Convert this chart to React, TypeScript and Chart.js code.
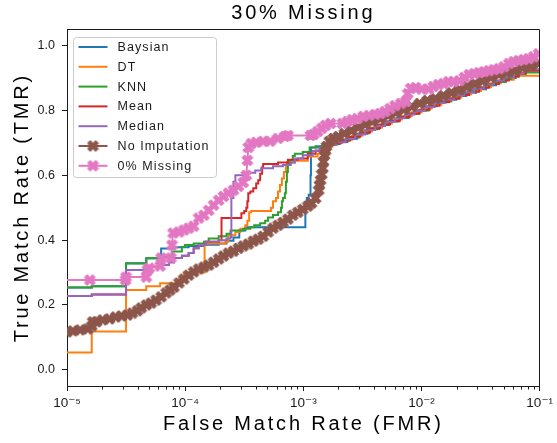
import React, { useEffect, useRef } from "react";
import { Chart, registerables } from "chart.js";

Chart.register(...registerables);

// ---------------- text ----------------
const TITLE = "30% Missing";
const X_TITLE = "False Match Rate (FMR)";
const Y_TITLE = "True Match Rate (TMR)";
const SERIES_NAMES = ["Baysian", "DT", "KNN", "Mean", "Median", "No Imputation", "0% Missing"];
const SERIES_COLORS = ["#1f77b4", "#ff7f0e", "#2ca02c", "#d62728", "#9467bd", "#8c564b", "#e377c2"];

// ---------------- axes ----------------
const X_DECADES = [1e-5, 1e-4, 1e-3, 1e-2, 1e-1];
const X_TICK_LABELS = ["10⁻⁵", "10⁻⁴", "10⁻³", "10⁻²", "10⁻¹"];
const X_MINOR_MULTIPLIERS = [2, 3, 4, 5, 6, 7, 8, 9];
const Y_TICKS = [0, 0.2, 0.4, 0.6, 0.8, 1.0];
const X_MIN = 1e-5;
const X_MAX = 1e-1;
const Y_MIN = -0.05;
const Y_MAX = 1.05;

// ---------------- data (FMR, TMR) ----------------
const BAYSIAN_FMR = [1e-5, 1.62e-5, 3.16e-5, 4.69e-5, 6.26e-5, 8.04e-5, 1.07e-4, 1.44e-4, 1.92e-4, 2.24e-4, 2.56e-4, 2.87e-4, 3.23e-4, 1.04e-3, 1.07e-3, 1.11e-3, 1.15e-3, 1.16e-3, 1.27e-3, 1.46e-3, 1.60e-3, 1.94e-3, 2.36e-3, 2.86e-3, 3.47e-3, 4.21e-3, 5.10e-3, 6.18e-3, 7.50e-3, 9.10e-3, 1.10e-2, 1.34e-2, 1.62e-2, 1.97e-2, 2.39e-2, 2.90e-2, 3.52e-2, 4.27e-2, 5.17e-2, 6.27e-2, 7.60e-2, 1e-1];
const BAYSIAN_TMR = [0.254, 0.258, 0.329, 0.344, 0.374, 0.378, 0.382, 0.386, 0.390, 0.398, 0.408, 0.430, 0.440, 0.518, 0.530, 0.540, 0.600, 0.686, 0.690, 0.692, 0.695, 0.703, 0.713, 0.728, 0.742, 0.755, 0.767, 0.778, 0.790, 0.800, 0.813, 0.825, 0.833, 0.845, 0.855, 0.866, 0.878, 0.890, 0.900, 0.910, 0.925, 0.925];

const DT_FMR = [1e-5, 1.62e-5, 3.16e-5, 4.69e-5, 6.14e-5, 8.86e-5, 9.76e-5, 1.46e-4, 2.19e-4, 2.32e-4, 2.66e-4, 2.93e-4, 3.23e-4, 3.36e-4, 3.48e-4, 3.62e-4, 5.33e-4, 5.54e-4, 5.87e-4, 6.10e-4, 6.34e-4, 6.59e-4, 6.85e-4, 7.12e-4, 7.26e-4, 8.47e-4, 1.09e-3, 1.32e-3, 1.51e-3, 1.76e-3, 2.14e-3, 2.59e-3, 3.15e-3, 3.82e-3, 4.63e-3, 5.61e-3, 6.81e-3, 8.26e-3, 1.00e-2, 1.22e-2, 1.47e-2, 1.79e-2, 2.17e-2, 2.63e-2, 3.19e-2, 3.87e-2, 4.69e-2, 6.03e-2, 1e-1];
const DT_TMR = [0.053, 0.118, 0.246, 0.258, 0.267, 0.285, 0.300, 0.390, 0.395, 0.415, 0.425, 0.435, 0.446, 0.460, 0.486, 0.490, 0.500, 0.520, 0.530, 0.550, 0.570, 0.590, 0.610, 0.625, 0.640, 0.645, 0.658, 0.667, 0.688, 0.700, 0.710, 0.722, 0.735, 0.748, 0.760, 0.772, 0.783, 0.795, 0.806, 0.818, 0.828, 0.840, 0.850, 0.860, 0.872, 0.884, 0.895, 0.907, 0.907];

const KNN_FMR = [1e-5, 1.62e-5, 3.16e-5, 4.69e-5, 6.02e-5, 7.74e-5, 9.38e-5, 9.94e-5, 1.18e-4, 1.44e-4, 1.58e-4, 1.92e-4, 2.24e-4, 2.42e-4, 3.10e-4, 3.56e-4, 3.84e-4, 4.31e-4, 4.75e-4, 5.03e-4, 5.54e-4, 6.10e-4, 6.47e-4, 6.59e-4, 6.72e-4, 6.98e-4, 7.12e-4, 7.26e-4, 7.40e-4, 7.69e-4, 8.14e-4, 8.47e-4, 9.89e-4, 1.13e-3, 1.40e-3, 1.66e-3, 2.02e-3, 2.45e-3, 2.97e-3, 3.60e-3, 4.37e-3, 5.30e-3, 6.43e-3, 7.80e-3, 9.46e-3, 1.15e-2, 1.34e-2, 1.79e-2, 2.09e-2, 2.48e-2, 2.90e-2, 3.52e-2, 4.02e-2, 5.17e-2, 5.69e-2, 6.64e-2, 7.60e-2, 1e-1];
const KNN_TMR = [0.254, 0.258, 0.328, 0.344, 0.349, 0.365, 0.379, 0.385, 0.390, 0.395, 0.405, 0.412, 0.420, 0.430, 0.435, 0.440, 0.446, 0.452, 0.460, 0.470, 0.478, 0.486, 0.500, 0.520, 0.530, 0.545, 0.580, 0.610, 0.636, 0.646, 0.660, 0.667, 0.672, 0.686, 0.690, 0.697, 0.707, 0.717, 0.730, 0.743, 0.755, 0.766, 0.777, 0.789, 0.800, 0.815, 0.831, 0.836, 0.852, 0.862, 0.870, 0.878, 0.888, 0.897, 0.905, 0.914, 0.917, 0.917];

const MEAN_FMR = [1e-5, 1.62e-5, 3.16e-5, 4.69e-5, 6.38e-5, 7.30e-5, 8.04e-5, 9.38e-5, 1.07e-4, 1.18e-4, 1.30e-4, 1.49e-4, 1.92e-4, 2.03e-4, 2.99e-4, 3.16e-4, 3.29e-4, 3.36e-4, 3.42e-4, 3.56e-4, 3.77e-4, 3.99e-4, 4.15e-4, 4.31e-4, 4.48e-4, 4.57e-4, 6.10e-4, 7.40e-4, 8.97e-4, 1.09e-3, 1.27e-3, 1.46e-3, 1.70e-3, 2.06e-3, 2.49e-3, 3.03e-3, 3.67e-3, 4.46e-3, 5.41e-3, 6.55e-3, 7.94e-3, 9.64e-3, 1.17e-2, 1.42e-2, 1.72e-2, 2.09e-2, 2.53e-2, 3.07e-2, 3.72e-2, 4.52e-2, 5.48e-2, 6.64e-2, 7.60e-2, 1e-1];
const MEAN_TMR = [0.228, 0.232, 0.308, 0.318, 0.323, 0.332, 0.345, 0.352, 0.360, 0.375, 0.385, 0.395, 0.400, 0.468, 0.483, 0.490, 0.500, 0.520, 0.545, 0.550, 0.560, 0.575, 0.585, 0.605, 0.625, 0.635, 0.640, 0.648, 0.652, 0.667, 0.677, 0.688, 0.698, 0.708, 0.719, 0.732, 0.745, 0.757, 0.768, 0.780, 0.791, 0.802, 0.815, 0.826, 0.837, 0.848, 0.858, 0.870, 0.882, 0.893, 0.905, 0.915, 0.923, 0.923];

const MEDIAN_FMR = [1e-5, 1.62e-5, 3.16e-5, 4.69e-5, 6.38e-5, 7.30e-5, 8.04e-5, 9.38e-5, 1.07e-4, 1.18e-4, 1.30e-4, 1.49e-4, 1.92e-4, 2.24e-4, 2.42e-4, 2.46e-4, 2.56e-4, 2.66e-4, 3.10e-4, 3.92e-4, 4.40e-4, 5.54e-4, 6.72e-4, 7.84e-4, 8.47e-4, 9.89e-4, 1.20e-3, 1.37e-3, 1.60e-3, 1.87e-3, 2.27e-3, 2.75e-3, 3.33e-3, 4.05e-3, 4.91e-3, 5.96e-3, 7.22e-3, 8.75e-3, 1.06e-2, 1.29e-2, 1.56e-2, 1.89e-2, 2.30e-2, 2.79e-2, 3.38e-2, 4.10e-2, 4.98e-2, 6.03e-2, 7.31e-2, 1e-1];
const MEDIAN_TMR = [0.228, 0.232, 0.308, 0.318, 0.323, 0.332, 0.345, 0.352, 0.360, 0.375, 0.385, 0.395, 0.400, 0.405, 0.410, 0.530, 0.580, 0.600, 0.608, 0.615, 0.622, 0.628, 0.632, 0.640, 0.652, 0.662, 0.675, 0.686, 0.694, 0.702, 0.712, 0.726, 0.740, 0.752, 0.765, 0.776, 0.788, 0.799, 0.811, 0.823, 0.834, 0.846, 0.857, 0.868, 0.880, 0.892, 0.903, 0.914, 0.927, 0.930];

const NO_IMPUTATION_FMR = [1e-5, 1.12e-5, 1.29e-5, 1.50e-5, 1.62e-5, 1.65e-5, 1.78e-5, 2.00e-5, 2.29e-5, 2.58e-5, 2.89e-5, 3.25e-5, 3.57e-5, 3.94e-5, 4.25e-5, 4.69e-5, 5.15e-5, 5.67e-5, 6.26e-5, 6.89e-5, 7.44e-5, 8.04e-5, 8.86e-5, 9.76e-5, 1.07e-4, 1.18e-4, 1.30e-4, 1.44e-4, 1.58e-4, 1.74e-4, 1.92e-4, 2.11e-4, 2.32e-4, 2.56e-4, 2.82e-4, 3.10e-4, 3.42e-4, 3.77e-4, 4.15e-4, 4.57e-4, 5.03e-4, 5.54e-4, 6.10e-4, 6.72e-4, 7.40e-4, 8.14e-4, 8.97e-4, 9.89e-4, 1.09e-3, 1.17e-3, 1.27e-3, 1.35e-3, 1.37e-3, 1.40e-3, 1.43e-3, 1.46e-3, 1.48e-3, 1.51e-3, 1.54e-3, 1.57e-3, 1.66e-3, 1.80e-3, 1.98e-3, 2.22e-3, 2.55e-3, 2.91e-3, 3.33e-3, 3.82e-3, 4.46e-3, 5.20e-3, 6.07e-3, 7.08e-3, 8.26e-3, 9.64e-3, 1.12e-2, 1.31e-2, 1.53e-2, 1.79e-2, 2.09e-2, 2.43e-2, 2.84e-2, 3.32e-2, 3.87e-2, 4.52e-2, 5.27e-2, 6.15e-2, 7.18e-2, 8.38e-2, 9.77e-2];
const NO_IMPUTATION_TMR = [0.117, 0.120, 0.123, 0.126, 0.135, 0.148, 0.148, 0.154, 0.157, 0.163, 0.166, 0.169, 0.175, 0.182, 0.191, 0.200, 0.206, 0.215, 0.225, 0.237, 0.246, 0.255, 0.268, 0.280, 0.292, 0.302, 0.311, 0.317, 0.323, 0.332, 0.342, 0.351, 0.360, 0.366, 0.375, 0.382, 0.388, 0.397, 0.403, 0.412, 0.425, 0.437, 0.446, 0.455, 0.465, 0.477, 0.486, 0.495, 0.505, 0.514, 0.529, 0.554, 0.570, 0.585, 0.603, 0.622, 0.642, 0.662, 0.676, 0.689, 0.705, 0.714, 0.720, 0.729, 0.738, 0.748, 0.757, 0.766, 0.775, 0.785, 0.794, 0.803, 0.812, 0.822, 0.831, 0.837, 0.846, 0.855, 0.865, 0.874, 0.883, 0.892, 0.902, 0.911, 0.917, 0.923, 0.932, 0.938, 0.945];

const ZERO_MISSING_FMR = [7e-6, 1.56e-5, 3.13e-5, 3.16e-5, 4.69e-5, 4.78e-5, 4.97e-5, 6.14e-5, 6.26e-5, 7.59e-5, 7.74e-5, 7.89e-5, 8.86e-5, 9.76e-5, 1.07e-4, 1.18e-4, 1.30e-4, 1.44e-4, 1.58e-4, 1.74e-4, 1.92e-4, 2.11e-4, 2.32e-4, 2.56e-4, 2.82e-4, 3.10e-4, 3.29e-4, 3.36e-4, 3.42e-4, 3.62e-4, 3.99e-4, 4.57e-4, 5.23e-4, 6.10e-4, 6.98e-4, 7.40e-4, 1.15e-3, 1.22e-3, 1.32e-3, 1.43e-3, 1.54e-3, 1.70e-3, 2.14e-3, 2.36e-3, 2.59e-3, 2.86e-3, 3.21e-3, 3.60e-3, 4.05e-3, 4.46e-3, 4.91e-3, 5.41e-3, 5.96e-3, 6.69e-3, 7.36e-3, 7.65e-3, 8.11e-3, 8.93e-3, 1.00e-2, 1.15e-2, 1.26e-2, 1.39e-2, 1.53e-2, 1.69e-2, 1.86e-2, 2.09e-2, 2.30e-2, 2.53e-2, 2.79e-2, 3.07e-2, 3.38e-2, 3.72e-2, 4.10e-2, 4.52e-2, 4.98e-2, 5.48e-2, 6.03e-2, 6.64e-2, 7.31e-2, 8.06e-2, 8.87e-2, 9.77e-2];
const ZERO_MISSING_TMR = [0.277, 0.277, 0.277, 0.286, 0.286, 0.308, 0.314, 0.320, 0.345, 0.345, 0.385, 0.422, 0.425, 0.431, 0.437, 0.443, 0.468, 0.477, 0.492, 0.508, 0.523, 0.535, 0.545, 0.554, 0.566, 0.578, 0.600, 0.646, 0.686, 0.698, 0.702, 0.705, 0.705, 0.714, 0.720, 0.723, 0.723, 0.726, 0.735, 0.745, 0.754, 0.760, 0.760, 0.766, 0.772, 0.775, 0.782, 0.785, 0.788, 0.791, 0.797, 0.806, 0.815, 0.822, 0.828, 0.852, 0.868, 0.871, 0.866, 0.866, 0.874, 0.880, 0.883, 0.889, 0.889, 0.892, 0.902, 0.911, 0.914, 0.917, 0.920, 0.923, 0.926, 0.929, 0.935, 0.945, 0.951, 0.954, 0.957, 0.960, 0.966, 0.975];

const SERIES_FMR = [BAYSIAN_FMR, DT_FMR, KNN_FMR, MEAN_FMR, MEDIAN_FMR, NO_IMPUTATION_FMR, ZERO_MISSING_FMR];
const SERIES_TMR = [BAYSIAN_TMR, DT_TMR, KNN_TMR, MEAN_TMR, MEDIAN_TMR, NO_IMPUTATION_TMR, ZERO_MISSING_TMR];
const SERIES_HAS_MARKERS = [false, false, false, false, false, true, true];
const SERIES_LINE_WIDTH = [2, 2, 2, 2, 2, 6, 2];

// ---------------- style ----------------
const FONT = "'Liberation Sans', Arial, Helvetica, 'DejaVu Sans', sans-serif";
const TITLE_SPACING = "2.8px";
const INK = "#1a1a1a";

// filled "X" marker (matplotlib-like)
const X_SHAPE = [[-1, -2], [0, -1], [1, -2], [2, -1], [1, 0], [2, 1], [1, 2], [0, 1], [-1, 2], [-2, 1], [-1, 0], [-2, -1]];
function makeMarker(color: string): HTMLCanvasElement {
  const size = 13;
  const c = document.createElement("canvas");
  c.width = size;
  c.height = size;
  const g = c.getContext("2d")!;
  const s = 11 / 4;
  const cx = size / 2;
  g.beginPath();
  X_SHAPE.forEach(([px, py], i) => {
    const X = cx + px * s;
    const Y = cx + py * s;
    if (i === 0) g.moveTo(X, Y);
    else g.lineTo(X, Y);
  });
  g.closePath();
  g.fillStyle = color;
  g.fill();
  g.strokeStyle = color;
  g.lineWidth = 1;
  g.lineJoin = "round";
  g.stroke();
  return c;
}

const alignPx = (v: number) => Math.round(v - 0.5) + 0.5;

const decorPlugin = {
  id: "decor",
  beforeDraw(chart: any) {
    const ctx = chart.ctx;
    const wrap = (obj: any, key: string) => {
      if (!obj || obj["__ls_" + key]) return;
      const orig = obj[key];
      obj[key] = function (...args: any[]) {
        const prev = ctx.letterSpacing;
        ctx.letterSpacing = TITLE_SPACING;
        const r = orig.apply(this, args);
        ctx.letterSpacing = prev;
        return r;
      };
      obj["__ls_" + key] = true;
    };
    wrap(chart.titleBlock, "draw");
    wrap(chart.scales.x, "drawTitle");
    wrap(chart.scales.y, "drawTitle");
    ctx.save();
    ctx.fillStyle = "#ffffff";
    ctx.fillRect(0, 0, chart.width, chart.height);
    ctx.restore();
  },
  afterDraw(chart: any) {
    const { ctx, chartArea: a, scales } = chart;
    ctx.save();
    // top & right spines
    ctx.strokeStyle = INK;
    ctx.lineWidth = 1;
    const top = alignPx(a.top);
    const right = alignPx(a.right);
    ctx.beginPath();
    ctx.moveTo(alignPx(a.left), top);
    ctx.lineTo(right, top);
    ctx.lineTo(right, alignPx(a.bottom));
    ctx.stroke();
    // minor ticks on the log axis
    const bottom = alignPx(a.bottom);
    ctx.beginPath();
    for (let d = 0; d < X_DECADES.length - 1; d++) {
      for (const m of X_MINOR_MULTIPLIERS) {
        const px = alignPx(scales.x.getPixelForValue(X_DECADES[d] * m));
        ctx.moveTo(px, bottom);
        ctx.lineTo(px, bottom + 3);
      }
    }
    ctx.stroke();

    // legend
    const bx = Math.round(a.left) + 6.5;
    const by = Math.round(a.top) + 7.5;
    const bw = 143;
    const bh = 140;
    const r = 3;
    ctx.beginPath();
    ctx.moveTo(bx + r, by);
    ctx.lineTo(bx + bw - r, by);
    ctx.arcTo(bx + bw, by, bx + bw, by + r, r);
    ctx.lineTo(bx + bw, by + bh - r);
    ctx.arcTo(bx + bw, by + bh, bx + bw - r, by + bh, r);
    ctx.lineTo(bx + r, by + bh);
    ctx.arcTo(bx, by + bh, bx, by + bh - r, r);
    ctx.lineTo(bx, by + r);
    ctx.arcTo(bx, by, bx + r, by, r);
    ctx.closePath();
    ctx.fillStyle = "rgba(255,255,255,0.85)";
    ctx.fill();
    ctx.strokeStyle = "#cccccc";
    ctx.lineWidth = 1;
    ctx.stroke();

    chart.data.datasets.forEach((ds: any, i: number) => {
      const y = by + 9.5 + i * 19.8;
      ctx.strokeStyle = ds.borderColor;
      ctx.lineWidth = 2;
      ctx.beginPath();
      ctx.moveTo(bx + 5, y);
      ctx.lineTo(bx + 34, y);
      ctx.stroke();
      if (ds.pointStyle && typeof ds.pointStyle === "object") {
        const img = ds.pointStyle as HTMLCanvasElement;
        ctx.drawImage(img, bx + 19.5 - img.width / 2, y - img.height / 2);
      }
      ctx.fillStyle = INK;
      ctx.font = `12.5px ${FONT}`;
      ctx.letterSpacing = "1.1px";
      ctx.textBaseline = "middle";
      ctx.textAlign = "left";
      ctx.fillText(ds.label, bx + 44, y + 0.5);
      ctx.letterSpacing = "0px";
    });
    ctx.restore();
  },
};

export default function App() {
  const canvasRef = useRef<HTMLCanvasElement | null>(null);

  useEffect(() => {
    const canvas = canvasRef.current;
    if (!canvas) return;

    const datasets = SERIES_NAMES.map((name, i) => {
      const data = SERIES_FMR[i].map((x, k) => ({ x, y: SERIES_TMR[i][k] }));
      const color = SERIES_COLORS[i];
      const base: any = {
        label: name,
        data,
        borderColor: color,
        backgroundColor: color,
        borderWidth: SERIES_LINE_WIDTH[i],
        borderJoinStyle: "round",
        fill: false,
        tension: 0,
        order: SERIES_NAMES.length - i,
      };
      if (SERIES_HAS_MARKERS[i]) {
        base.pointStyle = makeMarker(color);
        base.pointRadius = 6;
        base.pointHoverRadius = 6;
        base.stepped = false;
      } else {
        base.pointRadius = 0;
        base.pointHoverRadius = 0;
        base.stepped = "before";
        base.borderJoinStyle = "miter";
      }
      return base;
    });

    const chart = new Chart(canvas, {
      type: "line",
      data: { datasets },
      options: {
        responsive: false,
        animation: false,
        events: [],
        layout: { padding: { left: 0, right: 13, top: 0, bottom: 0 } },
        plugins: {
          legend: { display: false },
          tooltip: { enabled: false },
          title: {
            display: true,
            fullSize: false,
            text: TITLE,
            color: "#000",
            font: { family: FONT, size: 20, weight: "normal" },
            padding: { top: 1.5, bottom: 4 },
          },
        },
        scales: {
          x: {
            type: "logarithmic",
            min: X_MIN,
            max: X_MAX,
            afterBuildTicks: (scale: any) => {
              scale.ticks = X_DECADES.map((v) => ({ value: v }));
            },
            afterFit: (scale: any) => {
              scale.height = 57;
            },
            ticks: {
              autoSkip: false,
              maxRotation: 0,
              minRotation: 0,
              padding: 4,
              color: INK,
              font: { family: FONT, size: 13.5 },
              callback: (_v: any, index: number) => X_TICK_LABELS[index],
            },
            grid: {
              display: true,
              drawOnChartArea: false,
              drawTicks: true,
              tickLength: 5,
              tickColor: INK,
              tickWidth: 1,
            },
            border: { display: true, color: INK, width: 1 },
            title: {
              display: true,
              text: X_TITLE,
              color: "#000",
              font: { family: FONT, size: 20 },
              padding: { top: 0, bottom: 7 },
            },
          },
          y: {
            type: "linear",
            min: Y_MIN,
            max: Y_MAX,
            afterBuildTicks: (scale: any) => {
              scale.ticks = Y_TICKS.map((v) => ({ value: v }));
            },
            afterFit: (scale: any) => {
              scale.width = 67;
            },
            ticks: {
              padding: 7,
              color: INK,
              font: { family: FONT, size: 12.5 },
              callback: (v: any) => Number(v).toFixed(1),
            },
            grid: {
              display: true,
              drawOnChartArea: false,
              drawTicks: true,
              tickLength: 5,
              tickColor: INK,
              tickWidth: 1,
            },
            border: { display: true, color: INK, width: 1 },
            title: {
              display: true,
              text: Y_TITLE,
              color: "#000",
              font: { family: FONT, size: 20 },
              padding: { top: 10, bottom: 0 },
            },
          },
        },
      } as any,
      plugins: [decorPlugin],
    });

    return () => chart.destroy();
  }, []);

  return (
    <div style={{ position: "fixed", left: 0, top: 0, width: 557, height: 443, background: "#fff" }}>
      <canvas ref={canvasRef} width={557} height={443} style={{ display: "block", width: 557, height: 443 }} />
    </div>
  );
}
